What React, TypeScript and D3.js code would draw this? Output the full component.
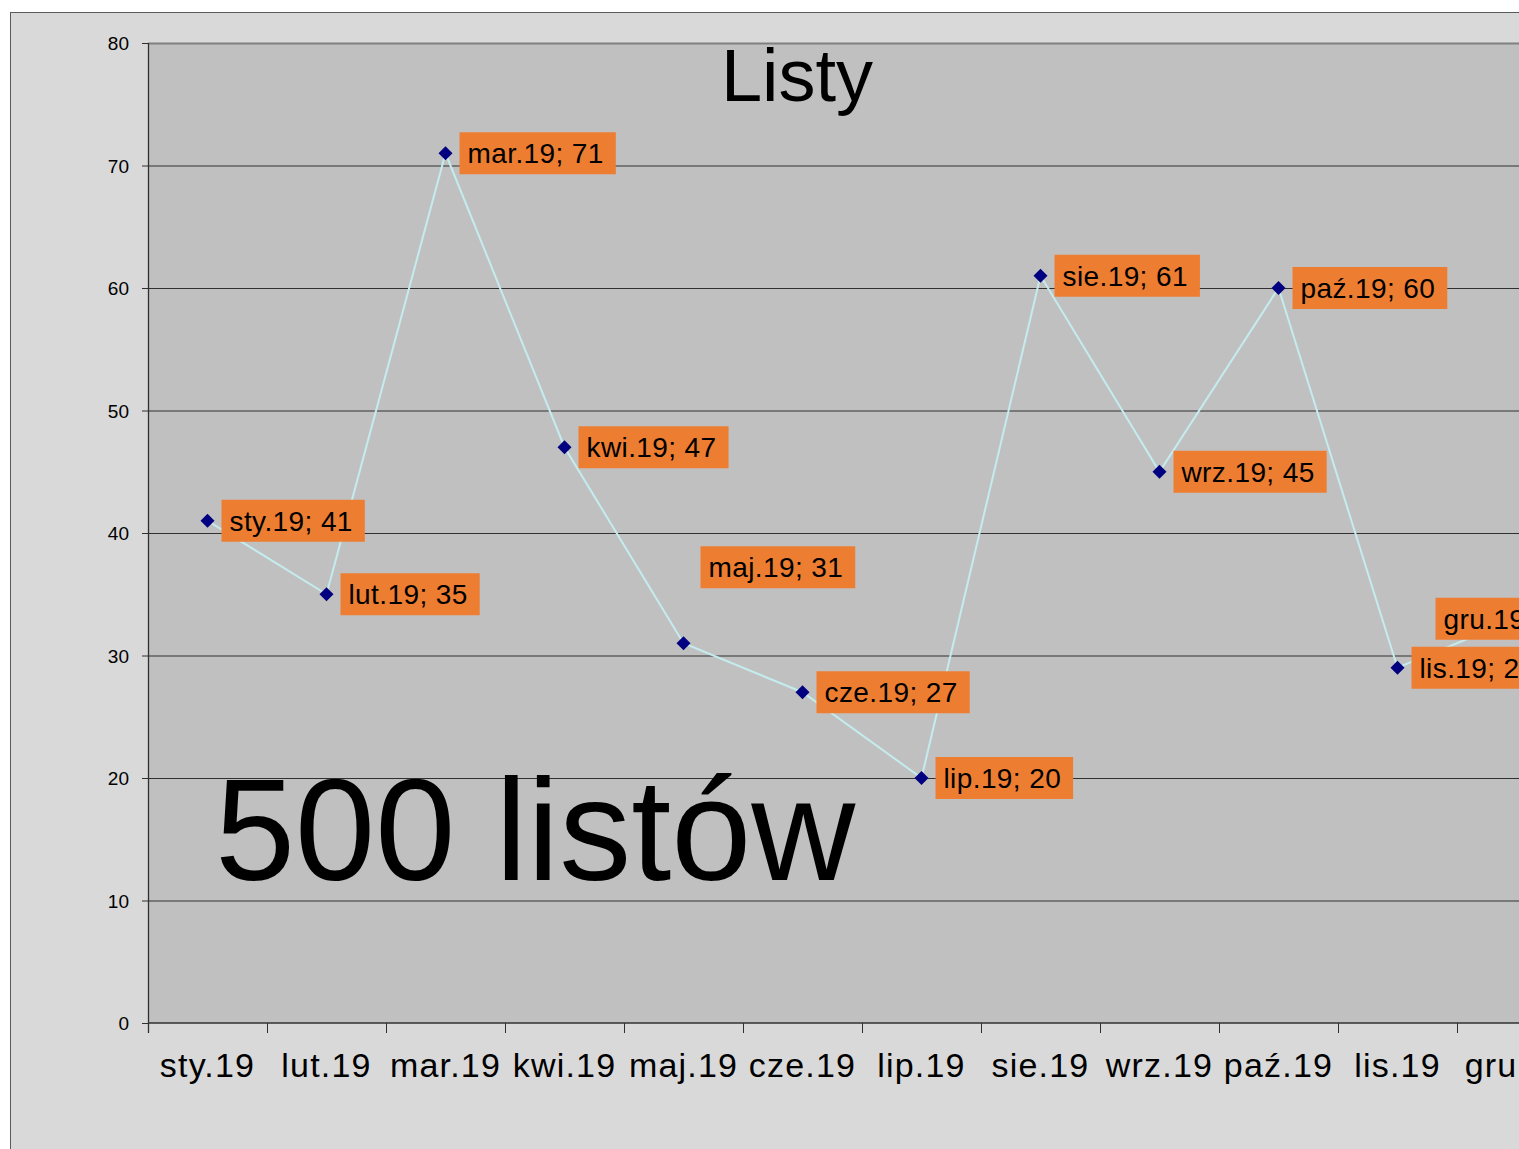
import React from "react";
import * as d3 from "d3";

const categories = ["sty.19", "lut.19", "mar.19", "kwi.19", "maj.19", "cze.19", "lip.19", "sie.19", "wrz.19", "paź.19", "lis.19", "gru.19"];
const values = [41, 35, 71, 47, 31, 27, 20, 61, 45, 60, 29, 33];
const yTicks = [0, 10, 20, 30, 40, 50, 60, 70, 80];
const titleText = "Listy";
const noteText = "500 listów";

// manual label nudges (like moved Excel data labels): [dx, dy] from point
const labelNudges: Record<number, [number, number]> = {
  4: [17, -76],
  11: [-81, 0],
};

const W = 1519;
const H = 1149;
const plotLeft = 148;
const plotTop = 43;
const plotBottom = 1023;
const band = 119;
const plotRight = plotLeft + band * categories.length;

const FONT = "'Liberation Sans', Arial, Helvetica, sans-serif";

function measure(text: string, size: number, spacing: number): number {
  const c = document.createElement("canvas");
  const ctx = c.getContext("2d");
  if (!ctx) return text.length * size * 0.5;
  ctx.font = `${size}px 'Liberation Sans', Arial, sans-serif`;
  return ctx.measureText(text).width + spacing * text.length;
}

export default function App() {
  const x = d3.scaleBand<string>().domain(categories).range([plotLeft, plotRight]).padding(0);
  const y = d3.scaleLinear().domain([0, 80]).range([plotBottom, plotTop]);
  const cx = (i: number) => (x(categories[i]) as number) + x.bandwidth() / 2;

  const line = d3
    .line<number>()
    .x((_, i) => cx(i))
    .y((d) => y(d));

  const r = 7;
  const diamond = `M0,${-r}L${r},0L0,${r}L${-r},0Z`;

  const labelSize = 28;
  const labelSpacing = 0.4;

  return (
    <svg
      width={W}
      height={H}
      style={{ position: "absolute", left: 0, top: 0, display: "block" }}
      fontFamily={FONT}
    >
      <rect x={0} y={0} width={W} height={H} fill="#ffffff" />
      <rect x={10.5} y={12.5} width={W + 100} height={H + 100} fill="#d9d9d9" stroke="#5a5a5a" strokeWidth={1} />
      <rect x={plotLeft} y={plotTop} width={plotRight - plotLeft} height={plotBottom - plotTop} fill="#c0c0c0" />
      {yTicks.map((t) => (
        <g key={t}>
          {t !== 0 && t !== 80 && (
            <line x1={plotLeft} x2={plotRight} y1={y(t) + 0.5} y2={y(t) + 0.5} stroke="#303030" strokeWidth={1} />
          )}
          <line x1={plotLeft - 6} x2={plotLeft} y1={y(t) + 0.5} y2={y(t) + 0.5} stroke="#303030" strokeWidth={1} />
          <text x={129} y={y(t) + 7} textAnchor="end" fontSize={19} fill="#000">
            {t}
          </text>
        </g>
      ))}
      <line x1={plotLeft} x2={plotRight} y1={plotTop + 0.5} y2={plotTop + 0.5} stroke="#808080" strokeWidth={2} />
      <line x1={plotLeft + 0.5} x2={plotLeft + 0.5} y1={plotTop} y2={plotBottom + 10} stroke="#303030" strokeWidth={1.3} />
      <line x1={plotLeft} x2={plotRight} y1={plotBottom} y2={plotBottom} stroke="#303030" strokeWidth={1.5} />
      {categories.map((c) => (
        <line
          key={"t" + c}
          x1={(x(c) as number) + band + 0.5}
          x2={(x(c) as number) + band + 0.5}
          y1={plotBottom}
          y2={plotBottom + 10}
          stroke="#303030"
          strokeWidth={1}
        />
      ))}
      {categories.map((c, i) => (
        <text key={"x" + c} x={cx(i)} y={1077} textAnchor="middle" fontSize={34} letterSpacing={1.2} fill="#000">
          {c}
        </text>
      ))}
      <text x={797} y={101} textAnchor="middle" fontSize={74} fill="#000">
        {titleText}
      </text>
      <text x={215} y={880} fontSize={144} fill="#000">
        {noteText}
      </text>
      <path d={line(values) || ""} fill="none" stroke="#c4ecee" strokeWidth={2} />
      {values.map((v, i) => (
        <path key={"m" + i} d={diamond} transform={`translate(${cx(i)},${y(v)})`} fill="#000080" />
      ))}
      {values.map((v, i) => {
        const txt = `${categories[i]}; ${v}`;
        const tw = measure(txt, labelSize, labelSpacing);
        const [ndx, ndy] = labelNudges[i] || [14, 0];
        const bx = cx(i) + ndx;
        const bcy = y(v) + ndy;
        return (
          <g key={"l" + i}>
            <rect x={bx} y={bcy - 21} width={tw + 20} height={42} fill="#ed7d31" />
            <text x={bx + 8} y={bcy + 10} fontSize={labelSize} letterSpacing={labelSpacing} fill="#000">
              {txt}
            </text>
          </g>
        );
      })}
    </svg>
  );
}
